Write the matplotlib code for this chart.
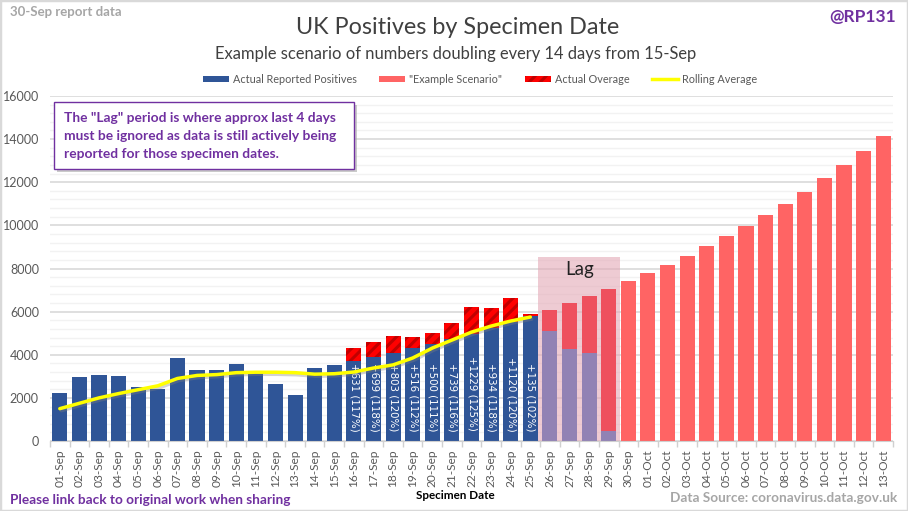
import matplotlib
matplotlib.use("Agg")
import matplotlib.pyplot as plt
import matplotlib.patheffects as pe
from matplotlib.patches import Rectangle, Patch
from matplotlib.lines import Line2D

plt.rcParams['font.family'] = ['Lato', 'DejaVu Sans']
plt.rcParams['hatch.linewidth'] = 2.2

W, H = 908, 511

dates = [f"{d:02d}-Sep" for d in range(1, 31)] + [f"{d:02d}-Oct" for d in range(1, 14)]

# Actual reported positives (blue part of each bar), 01-Sep .. 29-Sep
actual_part = [2230, 2980, 3070, 3030, 2500, 2430, 3860, 3300, 3300, 3570,
               3200, 2650, 2150, 3390, 3530, 3699, 3887, 4084, 4292, 4510,
               4739, 4980, 5233, 5499, 5778, 5100, 4280, 4080, 480]
# Example scenario totals, 16-Sep .. 13-Oct
scenario_dates = dates[15:]
scenario = [3699, 3887, 4084, 4292, 4510, 4739, 4980, 5233, 5499, 5778, 6072,
            6380, 6704, 7045, 7403, 7779, 8174, 8589, 9026, 9485, 9966, 10473,
            11005, 11564, 12200, 12820, 13470, 14150]
# Overage above the scenario, 16-Sep .. 25-Sep
overage = [631, 699, 803, 516, 500, 739, 1229, 934, 1120, 135]
overage_labels = ["+631 (117%)", "+699 (118%)", "+803 (120%)", "+516 (112%)",
                  "+500 (111%)", "+739 (116%)", "+1229 (125%)", "+934 (118%)",
                  "+1120 (120%)", "+135 (102%)"]
rolling = [1500, 1750, 2000, 2200, 2380, 2560, 2900, 3040, 3080, 3170, 3190,
           3190, 3170, 3100, 3120, 3200, 3385, 3530, 3850, 4310, 4680, 5050,
           5330, 5565, 5750]
lag_names = ["26-Sep", "27-Sep", "28-Sep", "29-Sep"]
lag_top = 8530

BLUE = '#2F5597'
RED = '#FF6464'
LAG_BLUE = '#9182B4'
LAG_RED = '#EE505E'
PURPLE = '#7030A0'
TXT = '#595959'

fig = plt.figure(figsize=(W / 100, H / 100), dpi=100, facecolor='white')
L, R, T, B = 50, 893, 96, 441
ax = fig.add_axes([L / W, 1 - B / H, (R - L) / W, (B - T) / H])

x = list(range(len(dates)))
idx = {d: i for i, d in enumerate(dates)}
bw = 0.77

ax.set_yticks(range(0, 16001, 2000))
ax.set_yticks(range(0, 16001, 400), minor=True)
ax.yaxis.grid(True, which='minor', color='#F2F2F2', lw=1)
ax.yaxis.grid(True, which='major', color='#D9D9D9', lw=1.2)
ax.set_axisbelow(True)

lag_i = [idx[d] for d in lag_names]
ax.add_patch(Rectangle((lag_i[0] - 0.6, 0), len(lag_i) + 0.15, lag_top, fc='#E3A9B6',
                       alpha=0.6, ec='none', zorder=1.5))

a_colors = [LAG_BLUE if i in lag_i else BLUE for i in range(len(actual_part))]
ax.bar(x[:len(actual_part)], actual_part, bw, color=a_colors, zorder=2)

s_x = [idx[d] for d in scenario_dates]
for xi, tot in zip(s_x, scenario):
    base = actual_part[xi] if xi < len(actual_part) else 0
    if xi in lag_i or xi >= len(actual_part):
        ax.bar(xi, tot - base, bw, bottom=base,
               color=LAG_RED if xi in lag_i else RED, zorder=2)

for xi, tot, ov, lab in zip(s_x, scenario, overage, overage_labels):
    ax.bar(xi, ov, bw, bottom=tot, facecolor='#FF0000', edgecolor='#C00000',
           hatch='///', lw=0, zorder=2)
    ax.text(xi + 0.03, 450, lab, rotation=-90, ha='center', va='bottom', color='white',
            fontsize=7.4, family=['DejaVu Sans'], zorder=3)

ax.plot(x[:len(rolling)], rolling, color='#FFFF00', lw=2.5, zorder=4,
        solid_capstyle='round',
        path_effects=[pe.SimpleLineShadow(offset=(1, -1.5), shadow_color='#808080', alpha=0.35),
                      pe.Normal()])

ax.text((lag_i[0] + lag_i[-1]) / 2, 7950, "Lag", ha='center', va='center',
        fontsize=13.5, color='#222222', zorder=5)

ax.set_xlim(-0.5, len(dates) - 0.5)
ax.set_ylim(0, 16000)
ax.set_xticks(x)
ax.set_xticklabels(dates, rotation=90, fontsize=8.6, color=TXT)
ax.set_xticks([i - 0.5 for i in range(len(dates) + 1)], minor=True)
ax.tick_params(axis='x', which='major', length=0, pad=6)
ax.tick_params(axis='x', which='minor', length=4, color='#D0D0D0', width=1)
ax.tick_params(axis='y', which='both', length=0, pad=8)
ax.tick_params(axis='y', labelsize=9, labelcolor=TXT)
for s in ['top', 'right', 'left']:
    ax.spines[s].set_visible(False)
ax.spines['bottom'].set_color('#D0D0D0')


def ftext(px, py, s, **kw):
    return fig.text(px / W, 1 - py / H, s, **kw)


ftext(455, 495, "Specimen Date", ha='center', va='center', fontsize=8.4,
      fontweight='bold', color='black')
ftext(458, 27, "UK Positives by Specimen Date", ha='center', va='center',
      fontsize=16.8, color='#404040')
ftext(456, 54, "Example scenario of numbers doubling every 14 days from 15-Sep",
      ha='center', va='center', fontsize=11.9, color='#404040')
ftext(10, 12, "30-Sep report data", ha='left', va='center', fontsize=9.5,
      fontweight='bold', color='#A6A6A6')
ftext(896, 17, "@RP131", ha='right', va='center', fontsize=12.5,
      fontweight='bold', color=PURPLE)
ftext(10, 500, "Please link back to original work when sharing", ha='left',
      va='center', fontsize=9.8, fontweight='bold', color=PURPLE)
ftext(897, 498, "Data Source: coronavirus.data.gov.uk", ha='right', va='center',
      fontsize=9.8, fontweight='bold', color='#A6A6A6')

# Callout box with shadow
bx, by, bw_px, bh_px = 54, 102, 300, 67
fig.patches.append(Rectangle(((bx + 3) / W, 1 - (by + bh_px + 3) / H), bw_px / W, bh_px / H,
                             transform=fig.transFigure, fc='#A8A8A8', ec='none', alpha=0.6, zorder=5))
fig.patches.append(Rectangle((bx / W, 1 - (by + bh_px) / H), bw_px / W, bh_px / H,
                             transform=fig.transFigure, fc='white', ec=PURPLE, lw=1.0, zorder=6))
for py, line in zip([118, 136, 154],
                    ['The "Lag" period is where approx last 4 days',
                     'must be ignored as data is still actively being',
                     'reported for those specimen dates.']):
    ftext(64, py, line, ha='left', va='center', fontsize=9.9, fontweight='bold',
          color=PURPLE, zorder=7)

# Figure frame
fig.patches.append(Rectangle((0, 0), 1, 1, transform=fig.transFigure, fc='none',
                             ec='#D9D9D9', lw=2.5, zorder=10))

handles = [Patch(fc=BLUE), Patch(fc=RED),
           Patch(facecolor='#FF0000', edgecolor='#C00000', hatch='///', lw=0),
           Line2D([0], [0], color='#FFFF00', lw=2.5)]
leg = fig.legend(handles, ['Actual Reported Positives', '"Example Scenario"',
                           'Actual Overage', 'Rolling Average'],
                 loc='center', bbox_to_anchor=(480 / W, 1 - 79 / H), ncol=4, frameon=False,
                 fontsize=7.8, handlelength=2.4, handleheight=0.45, handletextpad=0.35,
                 columnspacing=2.1, labelcolor=TXT)

fig.savefig('out.png', dpi=100)
